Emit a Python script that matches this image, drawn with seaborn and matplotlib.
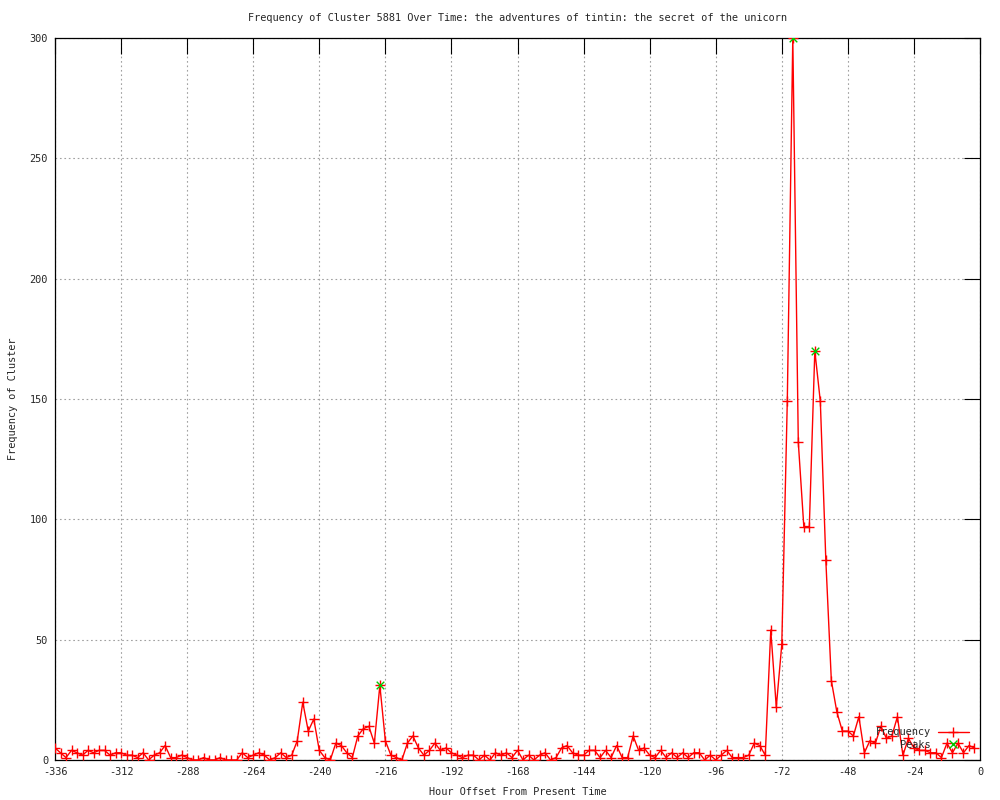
import matplotlib
matplotlib.use("Agg")
import matplotlib.pyplot as plt
import seaborn as sns
import pandas as pd
from matplotlib.lines import Line2D

# ---- data ----
hours = list(range(-336, 0, 2))
frequency = [
    5, 3, 1, 4, 3, 2, 4, 3, 4, 4, 2, 3, 3, 2, 2, 1, 3, 0, 2, 3,
    6, 1, 1, 2, 1, 0, 0, 1, 0, 0, 1, 0, 0, 0, 3, 1, 2, 3, 2, 0,
    1, 3, 1, 2, 8, 24, 12, 17, 4, 1, 0, 7, 6, 3, 1, 10, 13, 14, 7, 31,
    8, 2, 1, 0, 7, 10, 5, 2, 4, 7, 4, 5, 3, 2, 1, 2, 2, 0, 2, 0,
    3, 2, 3, 1, 4, 0, 2, 0, 2, 3, 0, 1, 5, 6, 3, 2, 2, 4, 4, 1,
    4, 1, 6, 1, 1, 10, 4, 5, 2, 1, 4, 1, 3, 1, 3, 1, 3, 3, 0, 2,
    0, 2, 4, 1, 1, 1, 2, 7, 6, 2, 54, 22, 48, 149, 300, 132, 97, 97, 170, 149,
    83, 33, 20, 12, 12, 10, 18, 3, 8, 7, 14, 9, 10, 18, 2, 9, 5, 4, 4, 3,
    3, 1, 7, 3, 7, 3, 6, 5,
]
peak_hours = [-218, -68, -60]
peak_values = [31, 300, 170]
x_ticks = [-336, -312, -288, -264, -240, -216, -192, -168, -144, -120, -96, -72, -48, -24, 0]
y_ticks = [0, 50, 100, 150, 200, 250, 300]

title = "Frequency of Cluster 5881 Over Time: the adventures of tintin: the secret of the unicorn"
xlabel = "Hour Offset From Present Time"
ylabel = "Frequency of Cluster"

df = pd.DataFrame({"hour": hours, "freq": frequency})
peaks = pd.DataFrame({"hour": peak_hours, "freq": peak_values})

sns.set_style("white")
plt.rcParams["font.family"] = ["DejaVu Sans Mono", "DejaVu Sans"]
FS = 7.4
RED = "#ff0000"
GREEN = "#00c800"

fig = plt.figure(figsize=(10, 8), dpi=100)
ax = fig.add_axes([55 / 1000, 1 - 760 / 800, 925 / 1000, 722 / 800])

sns.lineplot(data=df, x="hour", y="freq", ax=ax, color=RED, linewidth=1.0,
             marker="+", markersize=7, markeredgewidth=1.0, markeredgecolor=RED,
             label="Frequency", legend=False, zorder=3)
sns.scatterplot(data=peaks, x="hour", y="freq", ax=ax, color=GREEN, marker="x",
                s=30, linewidth=1.0, label="Peaks", legend=False, zorder=4)

ax.set_xlim(-336, 0)
ax.set_ylim(0, 300)
ax.set_xticks(x_ticks)
ax.set_yticks(y_ticks)
ax.set_xticklabels([str(t) for t in x_ticks], fontsize=FS)
ax.set_yticklabels([str(t) for t in y_ticks], fontsize=FS)
ax.tick_params(axis="both", direction="in", length=11.5, width=0.8, color="black",
               top=True, right=True, pad=5)
ax.grid(True, color="#a0a0a0", linestyle=(0, (1.5, 2.5)), linewidth=0.8)
for s in ax.spines.values():
    s.set_color("black")
    s.set_linewidth(0.9)
    s.set_visible(True)
ax.set_xlabel("")
ax.set_ylabel("")

fig.text(517.5 / 1000, 1 - 18 / 800, title, ha="center", va="center", fontsize=FS)
fig.text(517.5 / 1000, 1 - 792 / 800, xlabel, ha="center", va="center", fontsize=FS)
fig.text(13 / 1000, 1 - 399 / 800, ylabel, ha="center", va="center", rotation=90, fontsize=FS)

handles = [
    Line2D([], [], color=RED, linewidth=1.0, marker="+", markersize=7, markeredgewidth=1.0),
    Line2D([], [], color=GREEN, linestyle="none", marker="x", markersize=5.5, markeredgewidth=1.0),
]
ax.legend(handles, ["Frequency", "Peaks"], loc="lower right", frameon=False,
          markerfirst=False, alignment="right", fontsize=FS, handlelength=3.0,
          handletextpad=0.7, labelspacing=0.25, borderaxespad=0.3,
          bbox_to_anchor=(1 - 4 / 925, 0.004))

fig.savefig("out.png", dpi=100)
